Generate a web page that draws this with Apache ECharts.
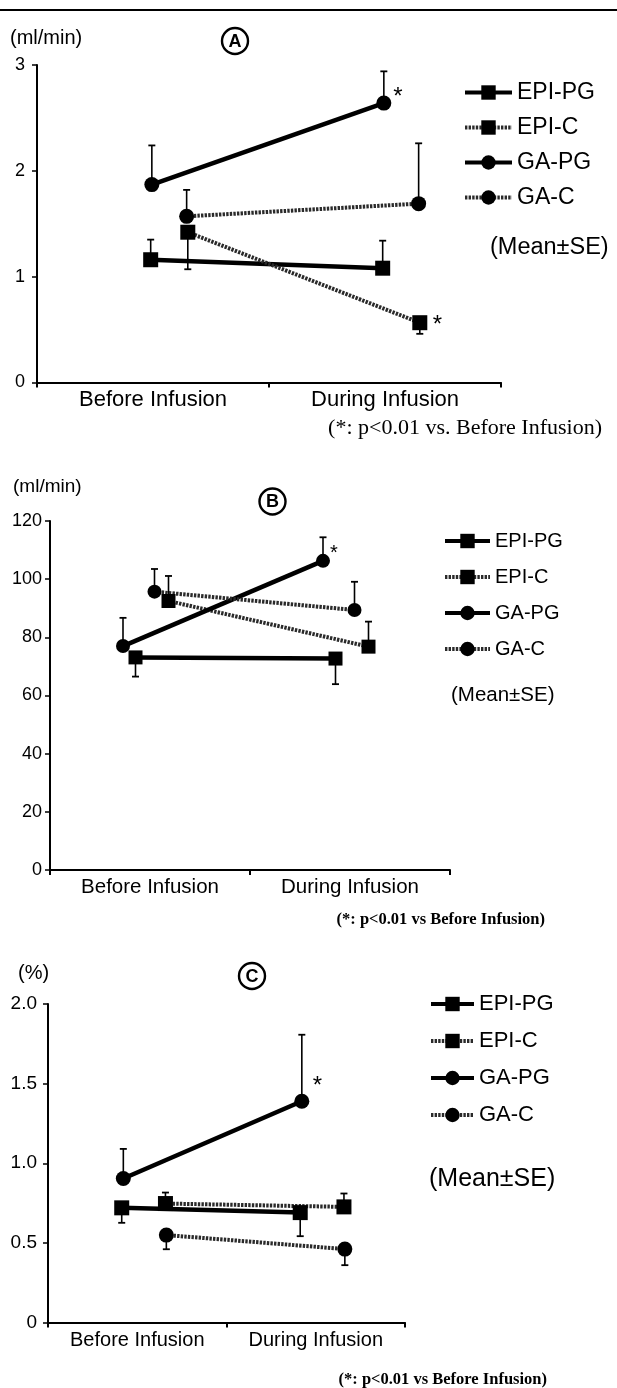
<!DOCTYPE html>
<html><head><meta charset="utf-8">
<script src="https://cdn.jsdelivr.net/npm/echarts@6/dist/echarts.min.js"></script>
<style>html,body{margin:0;padding:0;background:#fff}#c{width:617px;height:1388px}</style>
</head><body><div id="c"></div>
<script>
// ---------------- DATA ----------------
const categories = ['Before Infusion', 'During Infusion'];
const seriesNames = ['EPI-PG', 'EPI-C', 'GA-PG', 'GA-C'];

// Panel A (ml/min)
const aTickLabels = ['0', '1', '2', '3'];
const aEpiPG = [1.16, 1.08];  const aEpiPGse = [0.19, 0.26];
const aEpiC  = [1.42, 0.565]; const aEpiCse  = [0.35, 0.105];
const aGaPG  = [1.87, 2.64];  const aGaPGse  = [0.37, 0.30];
const aGaC   = [1.57, 1.69];  const aGaCse   = [0.25, 0.57];
const aSig   = { 'GA-PG': [false, true], 'EPI-C': [false, true] };

// Panel B (ml/min)
const bTickLabels = ['0', '20', '40', '60', '80', '100', '120'];
const bEpiPG = [73.1, 72.7];  const bEpiPGse = [6.6, 8.8];
const bEpiC  = [92.5, 76.8];  const bEpiCse  = [8.6, 8.6];
const bGaPG  = [77.0, 106.3]; const bGaPGse  = [9.7, 8.1];
const bGaC   = [95.7, 89.4];  const bGaCse   = [7.8, 9.7];
const bSig   = { 'GA-PG': [false, true] };

// Panel C (%)
const cTickLabels = ['0', '0.5', '1.0', '1.5', '2.0'];
const cEpiPG = [0.72, 0.69];  const cEpiPGse = [0.094, 0.148];
const cEpiC  = [0.747, 0.726];const cEpiCse  = [0.069, 0.084];
const cGaPG  = [0.904, 1.389];const cGaPGse  = [0.186, 0.418];
const cGaC   = [0.549, 0.461];const cGaCse   = [0.089, 0.101];
const cSig   = { 'GA-PG': [false, true] };

// ---------------- LAYOUT / STYLE ----------------
const SANS = "'Liberation Sans', Arial, Helvetica, sans-serif";
const SERIF = "'Liberation Serif', 'Times New Roman', serif";

const panels = [
  {
    vals: {'EPI-PG': aEpiPG, 'EPI-C': aEpiC, 'GA-PG': aGaPG, 'GA-C': aGaC},
    se:   {'EPI-PG': aEpiPGse, 'EPI-C': aEpiCse, 'GA-PG': aGaPGse, 'GA-C': aGaCse},
    sig: aSig, ticks: aTickLabels,
    errDir: {'EPI-PG': 1, 'EPI-C': -1, 'GA-PG': 1, 'GA-C': 1},
    dodge: {'EPI-PG': -0.01, 'EPI-C': 0.15, 'GA-PG': -0.005, 'GA-C': 0.145},
    grid: {left: 37, top: 65, width: 464, height: 317.5},
    yMax: 3, yInt: 1, tickFont: 18, yLabelMargin: 12, xFont: 22, xMargin: 6,
    sym: 15, sigOffset: {'GA-PG': [-3, -6], 'EPI-C': [0.5, 3]}, sigFont: 24,
    legend: {left: 463, top: 81, itemWidth: 47, itemGap: 12, font: 23},
    unit: {text: '(ml/min)', x: 10, y: 40, font: 20},
    letter: {text: 'A', x: 235, y: 41},
    mean: {x: 490, y: 248, font: 23.5},
    note: {text: '(*: p<0.01 vs. Before Infusion)', x: 602, y: 428, font: 22, weight: 'normal'}
  },
  {
    vals: {'EPI-PG': bEpiPG, 'EPI-C': bEpiC, 'GA-PG': bGaPG, 'GA-C': bGaC},
    se:   {'EPI-PG': bEpiPGse, 'EPI-C': bEpiCse, 'GA-PG': bGaPGse, 'GA-C': bGaCse},
    sig: bSig, ticks: bTickLabels,
    errDir: {'EPI-PG': -1, 'EPI-C': 1, 'GA-PG': 1, 'GA-C': 1},
    dodge: {'EPI-PG': -0.0725, 'EPI-C': 0.0925, 'GA-PG': -0.135, 'GA-C': 0.0225},
    grid: {left: 50, top: 521, width: 400, height: 349},
    yMax: 120, yInt: 20, tickFont: 18, yLabelMargin: 8, xFont: 20.5, xMargin: 7,
    sym: 14, sigOffset: {'GA-PG': [-5, -7]}, sigFont: 20,
    legend: {left: 443, top: 531, itemWidth: 45, itemGap: 16, font: 20},
    unit: {text: '(ml/min)', x: 13, y: 489, font: 19},
    letter: {text: 'B', x: 272.5, y: 501.5},
    mean: {x: 451, y: 695, font: 20.5},
    note: {text: '(*: p<0.01 vs Before Infusion)', x: 545, y: 920, font: 16.5, weight: 'bold'}
  },
  {
    vals: {'EPI-PG': cEpiPG, 'EPI-C': cEpiC, 'GA-PG': cGaPG, 'GA-C': cGaC},
    se:   {'EPI-PG': cEpiPGse, 'EPI-C': cEpiCse, 'GA-PG': cGaPGse, 'GA-C': cGaCse},
    sig: cSig, ticks: cTickLabels,
    errDir: {'EPI-PG': -1, 'EPI-C': 1, 'GA-PG': 1, 'GA-C': -1},
    dodge: {'EPI-PG': -0.087, 'EPI-C': 0.158, 'GA-PG': -0.078, 'GA-C': 0.163},
    grid: {left: 48, top: 1004, width: 357, height: 318.5},
    yMax: 2, yInt: 0.5, tickFont: 19, yLabelMargin: 11, xFont: 20, xMargin: 7.5,
    sym: 15, sigOffset: {'GA-PG': [-1.5, -15]}, sigFont: 24,
    legend: {left: 429, top: 993, itemWidth: 43, itemGap: 15, font: 22},
    unit: {text: '(%)', x: 18, y: 975, font: 20},
    letter: {text: 'C', x: 252, y: 976},
    mean: {x: 429, y: 1179, font: 25},
    note: {text: '(*: p<0.01 vs Before Infusion)', x: 547, y: 1380, font: 16.5, weight: 'bold'}
  }
];

function lineStyleFor(name) {
  return name.endsWith('-PG')
    ? {color: '#000', width: 4.5, type: 'solid'}
    : {color: '#2a2a2a', width: 4, type: [2.4, 1.2]};
}

const grids = [], xAxes = [], yAxes = [], series = [], legends = [], graphics = [];

graphics.push({type: 'line', shape: {x1: 0, y1: 10, x2: 617, y2: 10}, style: {stroke: '#000', lineWidth: 2}});

panels.forEach((p, pi) => {
  grids.push(p.grid);
  xAxes.push({
    type: 'category', gridIndex: pi, data: categories, boundaryGap: true,
    axisLine: {lineStyle: {color: '#000', width: 2}},
    axisTick: {show: true, length: 5, lineStyle: {color: '#000', width: 2}},
    axisLabel: {color: '#000', fontFamily: SANS, fontSize: p.xFont, margin: p.xMargin},
    splitLine: {show: false}
  });
  xAxes.push({type: 'value', gridIndex: pi, min: 0, max: categories.length, show: false});
  yAxes.push({
    type: 'value', gridIndex: pi, min: 0, max: p.yMax, interval: p.yInt,
    axisLine: {show: true, lineStyle: {color: '#000', width: 2}},
    axisTick: {show: true, length: 5, lineStyle: {color: '#000', width: 1.5}},
    axisLabel: {color: '#000', fontFamily: SANS, fontSize: p.tickFont, margin: p.yLabelMargin,
      formatter: (v) => p.ticks[Math.round(v / p.yInt)]},
    splitLine: {show: false}
  });
  const xIdx = pi * 2 + 1;
  seriesNames.forEach((name) => {
    const vals = p.vals[name], se = p.se[name], dir = p.errDir[name], dg = p.dodge[name];
    const sig = (p.sig[name]) || [];
    // error bars
    series.push({
      type: 'custom', name: name + '-err-' + pi, xAxisIndex: xIdx, yAxisIndex: pi, z: 2,
      silent: true,
      encode: {x: 0, y: [1, 2]},
      data: vals.map((v, i) => [i + 0.5 + dg, v, v + dir * se[i]]),
      renderItem: (params, api) => {
        const a = api.coord([api.value(0), api.value(1)]);
        const b = api.coord([api.value(0), api.value(2)]);
        const cap = 3.5;
        return {type: 'group', children: [
          {type: 'line', shape: {x1: a[0], y1: a[1], x2: b[0], y2: b[1]}, style: {stroke: '#000', lineWidth: 1.6}},
          {type: 'line', shape: {x1: b[0] - cap, y1: b[1], x2: b[0] + cap, y2: b[1]}, style: {stroke: '#000', lineWidth: 1.8}}
        ]};
      }
    });
    // line with markers
    series.push({
      type: 'line', name: name, xAxisIndex: xIdx, yAxisIndex: pi, z: 3,
      symbol: name.startsWith('EPI') ? 'rect' : 'circle', symbolSize: p.sym,
      showAllSymbol: true,
      lineStyle: lineStyleFor(name),
      itemStyle: {color: '#000', borderWidth: 0},
      data: vals.map((v, i) => {
        const item = {value: [i + 0.5 + dg, v]};
        if (sig[i]) {
          item.label = {show: true, formatter: '*', position: 'right', distance: 5,
            offset: p.sigOffset[name], color: '#000', fontFamily: SANS, fontSize: p.sigFont};
        }
        return item;
      })
    });
  });
  legends.push({
    orient: 'vertical', left: p.legend.left, top: p.legend.top, padding: 0,
    itemWidth: p.legend.itemWidth, itemHeight: 18, itemGap: p.legend.itemGap,
    selectedMode: false, data: seriesNames,
    lineStyle: {width: 4},
    textStyle: {color: '#000', fontFamily: SANS, fontSize: p.legend.font}
  });
  graphics.push({type: 'text', left: p.unit.x, top: p.unit.y - p.unit.font * 0.6,
    style: {text: p.unit.text, font: p.unit.font + 'px ' + SANS, fill: '#000'}});
  graphics.push({type: 'circle', shape: {cx: p.letter.x, cy: p.letter.y, r: 13},
    style: {fill: 'none', stroke: '#000', lineWidth: 2.4}});
  graphics.push({type: 'text', x: p.letter.x, y: p.letter.y + 1,
    style: {text: p.letter.text, font: 'bold 18px ' + SANS, fill: '#000', align: 'center', verticalAlign: 'middle'}});
  graphics.push({type: 'text', x: p.mean.x, y: p.mean.y,
    style: {text: '(Mean\u00b1SE)', font: p.mean.font + 'px ' + SANS, fill: '#000', align: 'left', verticalAlign: 'middle'}});
  graphics.push({type: 'text', x: p.note.x, y: p.note.y,
    style: {text: p.note.text, font: p.note.weight + ' ' + p.note.font + 'px ' + SERIF, fill: '#000', align: 'right', verticalAlign: 'middle'}});
});

const chart = echarts.init(document.getElementById('c'), null, {renderer: 'canvas'});
chart.setOption({
  animation: false,
  backgroundColor: '#fff',
  grid: grids, xAxis: xAxes, yAxis: yAxes, series: series, legend: legends, graphic: graphics
});
</script></body></html>
